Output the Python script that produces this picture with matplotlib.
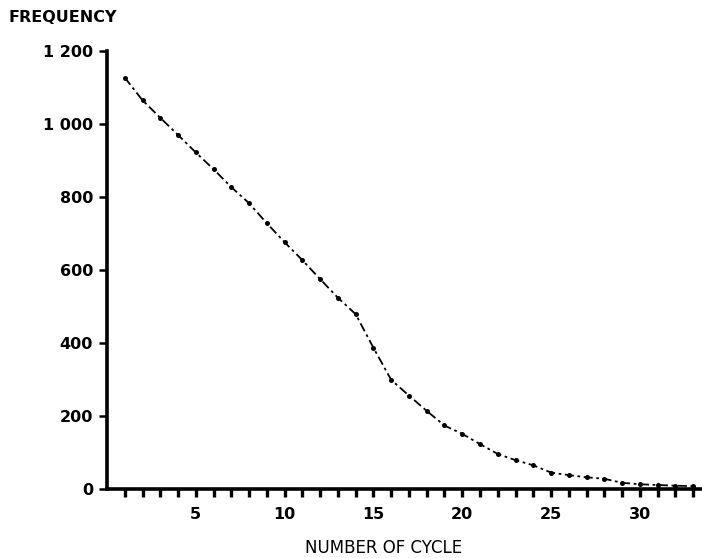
import numpy as np
import matplotlib
matplotlib.use("Agg")
import matplotlib.pyplot as plt

# cycle number and how often it occurs
cycles = list(range(1, 34))
frequency = [1127, 1065, 1017, 970, 922, 876, 827, 783, 728, 676,
             627, 575, 524, 479, 387, 299, 256, 214, 174, 151,
             123, 96, 79, 65, 45, 38, 32, 28, 17, 13,
             11, 9, 8]

x_labels = [5, 10, 15, 20, 25, 30]
y_ticks = [0, 200, 400, 600, 800, 1000, 1200]
y_labels = ["0", "200", "400", "600", "800", "1 000", "1 200"]

plt.rcParams['font.family'] = ['DejaVu Sans']

fig = plt.figure(figsize=(7.02, 5.58), dpi=100)
ax = fig.add_axes([107 / 702, 69 / 558, 595 / 702, 438 / 558])

ax.plot(cycles, frequency, color="black", lw=1.3,
        linestyle=(0, (5, 2, 1.5, 2)),
        marker="o", markersize=3.6, markeredgewidth=0)

ax.set_xlim(0, 33.5)
ax.set_ylim(0, 1200)

for side in ("top", "right"):
    ax.spines[side].set_visible(False)
for side in ("left", "bottom"):
    ax.spines[side].set_linewidth(2.6)

ax.set_xticks(cycles)
ax.set_xticklabels([str(c) if c in x_labels else "" for c in cycles])
ax.set_yticks(y_ticks)
ax.set_yticklabels(y_labels)

ax.tick_params(axis="x", direction="out", length=6, width=2.4, pad=7,
               labelsize=11.5)
ax.tick_params(axis="y", direction="out", length=6, width=1.8, pad=4,
               labelsize=11.5)
for lbl in ax.get_xticklabels() + ax.get_yticklabels():
    lbl.set_fontweight("bold")

fig.text(8 / 702, 1 - 17 / 558, "FREQUENCY", fontsize=11.5,
         fontweight="bold", ha="left", va="center")
fig.text(384 / 702, 1 - 548 / 558, "NUMBER OF CYCLE", fontsize=12,
         ha="center", va="center")

fig.savefig("out.png", dpi=100)
